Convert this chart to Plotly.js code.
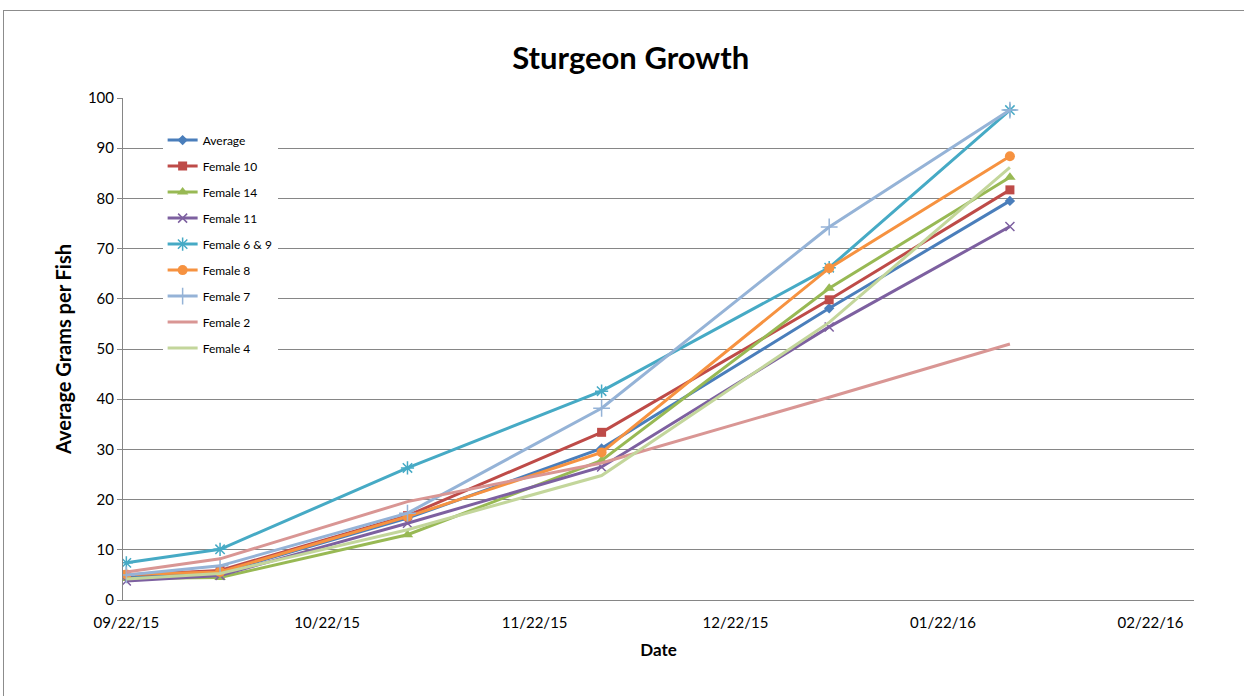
<!DOCTYPE html>
<html>
<head>
<meta charset="utf-8">
<script src="https://cdn.plot.ly/plotly-3.0.1.min.js"></script>
<style>
  html, body { margin: 0; padding: 0; background: #fff; }
  #chart { width: 1244px; height: 696px; }
  #frame { position: absolute; left: 3px; top: 10px; width: 1260px; height: 720px;
           border: 1px solid #8c8c8c; pointer-events: none; }
</style>
</head>
<body>
<div id="chart"></div>
<div id="frame"></div>
<script>
// ---- data ----
const dates = ['2015-09-22', '2015-10-06', '2015-11-03', '2015-12-02', '2016-01-05', '2016-02-01'];
const seriesNames = ['Average', 'Female 10', 'Female 14', 'Female 11', 'Female 6 & 9', 'Female 8', 'Female 7', 'Female 2', 'Female 4'];
const average  = [4.7, 5.5, 16.3, 30.2, 58.1, 79.5];
const female10 = [5.0, 5.9, 16.8, 33.4, 59.8, 81.7];
const female14 = [4.3, 4.5, 13.0, 27.8, 62.1, 84.2];
const female11 = [3.8, 4.9, 15.3, 26.5, 54.4, 74.4];
const female69 = [7.4, 10.1, 26.3, 41.6, 66.2, 97.6];
const female8  = [5.1, 5.6, 16.6, 29.4, 66.1, 88.4];
const female7  = [5.0, 6.8, 17.3, 38.2, 74.3, 97.6];
const female2  = [5.6, 8.2, 19.6, 27.3, 40.4, 51.0];
const female4  = [4.2, 5.3, 14.0, 24.8, 55.3, 86.2];
const tickDates = ['2015-09-22', '2015-10-22', '2015-11-22', '2015-12-22', '2016-01-22', '2016-02-22'];
const tickLabels = ['09/22/15', '10/22/15', '11/22/15', '12/22/15', '01/22/16', '02/22/16'];

const values = [average, female10, female14, female11, female69, female8, female7, female2, female4];
const colors = ['#4A7EBB', '#BE4B48', '#98B954', '#7D60A0', '#46AAC5', '#F69240', '#95B3D7', '#D99694', '#C3D69B'];
const symbols = ['diamond', 'square', 'triangle-up', 'x-thin-open', 'asterisk-open', 'circle', 'cross-thin-open', null, null];
const sizes = [8, 9, 10, 9, 11, 10, 12, 0, 0];

const font = 'Lato, "Open Sans", sans-serif';

const traces = values.map((v, i) => {
  const t = {
    x: dates, y: v, name: seriesNames[i], type: 'scatter',
    legendgroup: 'g' + i,
    line: { color: colors[i], width: 3 },
  };
  if (symbols[i]) {
    t.mode = 'lines+markers';
    t.marker = { symbol: symbols[i], size: sizes[i], color: colors[i],
                 line: { color: colors[i], width: symbols[i].indexOf('open') >= 0 ? 1.5 : 0 } };
  } else {
    t.mode = 'lines';
  }
  return t;
});

const layout = {
  width: 1244, height: 696,
  paper_bgcolor: '#fff', plot_bgcolor: '#fff',
  margin: { l: 123, r: 50, t: 98, b: 96 },
  font: { family: font, color: '#000', size: 15 },
  title: { text: '<b>Sturgeon Growth</b>', font: { family: font, size: 31, color: '#000' },
           x: 0.507, xanchor: 'center', y: 0.917, yanchor: 'middle' },
  xaxis: {
    type: 'date',
    range: ['2015-09-21 12:00', '2016-02-28 12:00'],
    tickvals: tickDates, ticktext: tickLabels,
    showgrid: false, zeroline: false,
    showline: true, linecolor: '#868686', linewidth: 1,
    ticks: '', tickfont: { size: 15 }, ticklabelstandoff: 9,
    title: { text: '<b>Date</b>', font: { size: 17 }, standoff: 14 },
    fixedrange: true
  },
  yaxis: {
    range: [0, 100], dtick: 10, tick0: 0,
    showgrid: true, gridcolor: '#868686', gridwidth: 1,
    zeroline: false, showline: true, linecolor: '#868686', linewidth: 1,
    ticks: 'outside', ticklen: 5, tickcolor: '#868686',
    tickfont: { size: 15 },
    title: { text: '<b>Average Grams per Fish</b>', font: { size: 20 }, standoff: 10 },
    fixedrange: true
  },
  showlegend: true,
  legend: {
    x: 0.037, xanchor: 'left', y: 0.945, yanchor: 'top',
    bgcolor: '#ffffff', borderwidth: 0,
    font: { size: 12, family: font },
    traceorder: 'grouped', tracegroupgap: 7,
    itemwidth: 30
  }
};

Plotly.newPlot('chart', traces, layout, { displayModeBar: false, staticPlot: true });
</script>
</body>
</html>
